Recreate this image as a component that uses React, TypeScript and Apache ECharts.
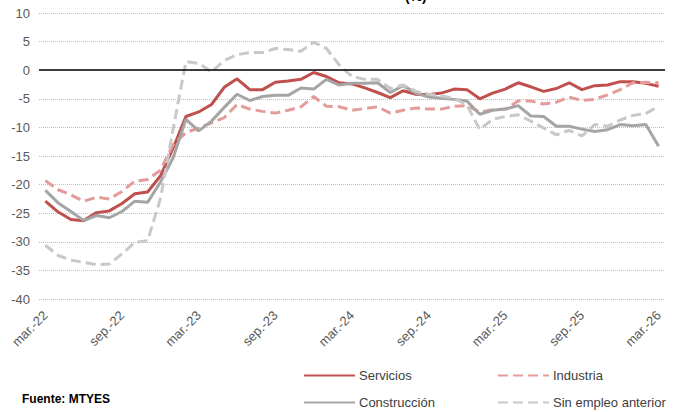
import React, { useEffect, useRef } from "react";
import * as echarts from "echarts";

const categories = [
  "mar.-22", "abr.-22", "may.-22", "jun.-22", "jul.-22", "ago.-22", "sep.-22", "oct.-22", "nov.-22", "dic.-22",
  "ene.-23", "feb.-23", "mar.-23", "abr.-23", "may.-23", "jun.-23", "jul.-23", "ago.-23", "sep.-23", "oct.-23", "nov.-23", "dic.-23",
  "ene.-24", "feb.-24", "mar.-24", "abr.-24", "may.-24", "jun.-24", "jul.-24", "ago.-24", "sep.-24", "oct.-24", "nov.-24", "dic.-24",
  "ene.-25", "feb.-25", "mar.-25", "abr.-25", "may.-25", "jun.-25", "jul.-25", "ago.-25", "sep.-25", "oct.-25", "nov.-25", "dic.-25",
  "ene.-26", "feb.-26", "mar.-26",
];

const servicios = [
  -22.9, -24.8, -26.1, -26.3, -24.9, -24.6, -23.3, -21.6, -21.3, -18.5,
  -13.6, -8.1, -7.3, -6.0, -3.0, -1.5, -3.4, -3.4, -2.1, -1.9,
  -1.6, -0.4, -1.1, -2.2, -2.4, -3.1, -3.9, -4.8, -3.6, -4.2,
  -4.3, -4.0, -3.3, -3.4, -5.0, -4.0, -3.3, -2.2, -2.9, -3.7,
  -3.2, -2.2, -3.4, -2.7, -2.6, -2.0, -2.0, -2.3, -2.8,
];

const industria = [
  -19.3, -20.9, -21.8, -22.9, -22.2, -22.5, -21.2, -19.4, -19.1, -17.5,
  -13.0, -10.9, -10.1, -9.2, -8.3, -6.0, -6.8, -7.2, -7.5, -7.0,
  -6.4, -4.6, -6.3, -6.4, -7.0, -6.7, -6.4, -7.5, -7.0, -6.6,
  -6.8, -6.8, -6.3, -6.2, -7.3, -6.9, -6.8, -5.4, -5.4, -5.9,
  -5.6, -4.7, -5.3, -5.1, -4.3, -3.4, -2.2, -2.1, -2.2,
];

const construccion = [
  -21.0, -23.2, -24.7, -26.3, -25.4, -25.8, -24.7, -22.9, -23.1, -19.6,
  -15.3, -8.6, -10.6, -8.9, -6.5, -4.2, -5.3, -4.6, -4.4, -4.4,
  -3.1, -3.3, -1.6, -2.6, -2.3, -2.3, -2.2, -3.9, -2.7, -4.0,
  -4.7, -4.9, -5.1, -5.4, -7.7, -7.0, -6.8, -6.2, -8.0, -8.1,
  -9.8, -9.8, -10.3, -10.7, -10.4, -9.5, -9.7, -9.5, -13.3,
];

const sinEmpleoAnterior = [
  -30.6, -32.4, -33.2, -33.6, -34.0, -33.9, -32.1, -30.1, -29.8, -22.5,
  -10.3, 1.5, 1.2, -0.3, 1.7, 2.7, 3.1, 3.1, 3.8, 3.6,
  3.3, 4.9, 3.8, 0.9, -1.1, -1.6, -1.6, -3.2, -2.6, -3.7,
  -4.2, -4.5, -4.9, -6.1, -10.4, -8.6, -8.1, -7.8, -8.9, -10.1,
  -11.3, -10.5, -11.5, -9.5, -9.8, -8.7, -7.9, -7.6, -6.3,
];

const seriesNames = ["Servicios", "Industria", "Construcción", "Sin empleo anterior"];
const yTicks = { min: -40, max: 10, interval: 5 };

const FONT = "'Liberation Sans', Arial, sans-serif";
const DASH = [10, 5];

export default function App() {
  const ref = useRef<HTMLDivElement>(null);

  useEffect(() => {
    if (!ref.current) return;
    const chart = echarts.init(ref.current, null, { renderer: "svg" });

    const legendBase = {
      itemWidth: 51,
      itemHeight: 14,
      itemGap: 5,
      padding: 0,
      textStyle: { fontSize: 13, color: "#404040", fontFamily: FONT, padding: [0, 0, 0, -1] },
      itemStyle: { opacity: 0, color: "transparent", borderWidth: 0 },
      selectedMode: false,
    };

    chart.setOption({
      animation: false,
      backgroundColor: "#ffffff",
      textStyle: { fontFamily: FONT },
      grid: { left: 39, right: 13, top: 13, bottom: 113, containLabel: false },
      xAxis: {
        type: "category",
        data: categories,
        boundaryGap: true,
        axisLine: { show: false },
        axisTick: { show: false },
        splitLine: { show: false },
        axisLabel: {
          interval: 5,
          rotate: 45,
          margin: 14,
          fontSize: 13,
          color: "#595959",
          fontFamily: FONT,
        },
      },
      yAxis: {
        type: "value",
        min: yTicks.min,
        max: yTicks.max,
        interval: yTicks.interval,
        axisLine: { show: false },
        axisTick: { show: false },
        axisLabel: { fontSize: 13, color: "#595959", margin: 9, fontFamily: FONT },
        splitLine: { lineStyle: { type: "dotted", color: "#BFBFBF", width: 1 } },
      },
      legend: [
        { ...legendBase, data: [seriesNames[0]], left: 303, top: 369 },
        { ...legendBase, data: [seriesNames[1]], left: 497, top: 369 },
        { ...legendBase, data: [seriesNames[2]], left: 303, top: 396 },
        { ...legendBase, data: [seriesNames[3]], left: 497, top: 396 },
      ],
      graphic: [
        {
          type: "text",
          left: 22,
          top: 393,
          style: { text: "Fuente: MTYES", fontSize: 12, fontWeight: "bold", fill: "#000000", fontFamily: FONT },
        },
        {
          type: "text",
          left: 405,
          top: -11,
          style: { text: "(%)", fontSize: 14, fontWeight: "bold", fill: "#000000", fontFamily: FONT },
        },
      ],
      series: [
        {
          name: "zero",
          type: "line",
          data: [],
          z: 1,
          silent: true,
          markLine: {
            silent: true,
            symbol: "none",
            label: { show: false },
            lineStyle: { color: "#000000", type: "solid", width: 1.5 },
            data: [{ yAxis: 0 }],
          },
        },
        {
          name: seriesNames[0],
          type: "line",
          data: servicios,
          showSymbol: false,
          symbol: "none",
          z: 3,
          lineStyle: { color: "#C0504D", width: 3 },
          itemStyle: { color: "#C0504D" },
        },
        {
          name: seriesNames[1],
          type: "line",
          data: industria,
          showSymbol: false,
          symbol: "none",
          z: 3,
          lineStyle: { color: "#E39C9A", width: 3, type: DASH },
          itemStyle: { color: "#E39C9A" },
        },
        {
          name: seriesNames[2],
          type: "line",
          data: construccion,
          showSymbol: false,
          symbol: "none",
          z: 3,
          lineStyle: { color: "#A5A5A5", width: 3 },
          itemStyle: { color: "#A5A5A5" },
        },
        {
          name: seriesNames[3],
          type: "line",
          data: sinEmpleoAnterior,
          showSymbol: false,
          symbol: "none",
          z: 3,
          lineStyle: { color: "#C8C8C8", width: 3, type: DASH },
          itemStyle: { color: "#C8C8C8" },
        },
      ],
    });

    return () => chart.dispose();
  }, []);

  return (
    <div
      ref={ref}
      style={{ position: "absolute", left: 0, top: 0, width: 678, height: 412 }}
    />
  );
}
